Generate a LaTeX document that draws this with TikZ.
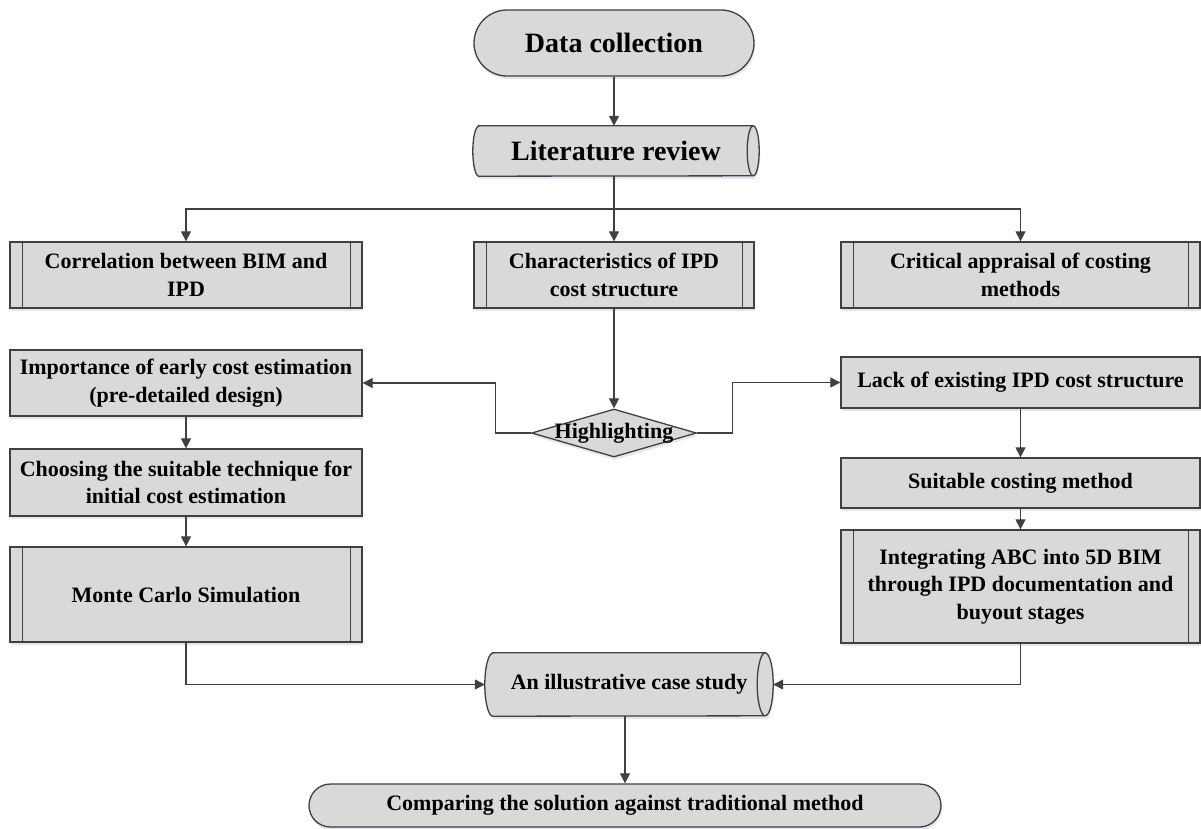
\documentclass[tikz,border=0pt]{standalone}
\usepackage{fontspec}
\setmainfont{Liberation Serif}
\usetikzlibrary{arrows.meta,calc,shapes.geometric,shadows,backgrounds}
\definecolor{gf}{HTML}{D9D9D9}
\definecolor{lc}{HTML}{404040}
\newcommand\myfs{\fontsize{22}{27.5}\selectfont\bfseries}
\newcommand\bigfs{\fontsize{28}{34}\selectfont\bfseries}
\newcommand\ppl[1]{\draw[lc,line width=1.3pt] ($(#1.north west)+(13pt,0)$) -- ($(#1.south west)+(13pt,0)$) ($(#1.north east)+(-12pt,0)$) -- ($(#1.south east)+(-12pt,0)$);}
\newcommand\cylshape[3]{%
  \begin{scope}[on background layer]
  \path[draw=lc,fill=gf,line width=1.3pt,shd] ($(#1.north west)+(#2pt,0)$) -- ($(#1.north east)+(-#2pt,0)$)
     arc[start angle=90,end angle=-90,x radius=#2pt,y radius=#3pt] -- ($(#1.south west)+(#2pt,0)$)
     arc[start angle=270,end angle=90,x radius=#2pt,y radius=#3pt] -- cycle;
  \draw[lc,line width=1.3pt] ($(#1.north east)+(-#2pt,0)$) arc[start angle=90,end angle=270,x radius=#2pt,y radius=#3pt];
  \end{scope}}
\begin{document}
\begin{tikzpicture}[x=1pt,y=-1pt,
  shd/.style={drop shadow={shadow xshift=1pt,shadow yshift=-3pt,fill=blue!30!gray,opacity=0.15}},
  proc/.style={draw=lc,fill=gf,line width=1.3pt,rectangle,inner sep=0pt,align=center,font=\myfs,text=black,shd},
  plain/.style={rectangle,inner sep=0pt,align=center,font=\myfs,text=black},
  arr/.style={draw=lc,line width=1.2pt,-{Triangle[length=10pt,width=10pt]}},
  ln/.style={draw=lc,line width=1.2pt}]
\useasboundingbox (0,0) rectangle (1201,828);

% top
\node[proc,rounded corners=33pt,minimum width=280pt,minimum height=66pt,font=\bigfs] (dc) at (614,43) {Data collection};
\node[plain,minimum width=286pt,minimum height=50pt,font=\bigfs] (lr) at (616,151) {Literature review};
\cylshape{lr}{6}{25}

% first row
\node[proc,minimum width=352pt,minimum height=66pt] (cor) at (186,275) {Correlation between BIM and\\IPD};
\ppl{cor}
\node[proc,minimum width=280pt,minimum height=66pt] (cha) at (614,275) {Characteristics of IPD\\cost structure};
\ppl{cha}
\node[proc,minimum width=359pt,minimum height=66pt] (cri) at (1020.5,275) {Critical appraisal of costing\\methods};
\ppl{cri}

% middle
\node[proc,minimum width=352pt,minimum height=66pt] (imp) at (186,383) {Importance of early cost estimation\\(pre-detailed design)};
\node[diamond,draw=lc,fill=gf,line width=1.3pt,inner sep=0pt,minimum width=165pt,minimum height=48pt,shd,
      label={[font=\myfs,text=black]center:Highlighting}] (hl) at (614,433) {};
\node[proc,minimum width=359pt,minimum height=51pt] (lack) at (1020.5,382.5) {Lack of existing IPD cost structure};

\node[proc,minimum width=352pt,minimum height=67pt] (cho) at (186,482.5) {Choosing the suitable technique for\\initial cost estimation};
\node[proc,minimum width=359pt,minimum height=50pt] (suit) at (1020.5,483) {Suitable costing method};

\node[proc,minimum width=352pt,minimum height=95pt] (mc) at (186,594.5) {Monte Carlo Simulation};
\ppl{mc}
\node[proc,minimum width=359pt,minimum height=113pt] (integ) at (1020.5,586.5) {Integrating ABC into 5D BIM\\through IPD documentation and\\buyout stages};
\ppl{integ}

% bottom
\node[plain,minimum width=288pt,minimum height=63pt] (cs) at (629,684.5) {An illustrative case study};
\cylshape{cs}{8}{31.5}
\node[proc,rounded corners=21.5pt,minimum width=632pt,minimum height=43pt] (cmp) at (625,805.5) {Comparing the solution against traditional method};

% connectors
\coordinate (br) at (614,209);
\draw[arr] (dc.south) -- (dc.south |- lr.north);
\draw[ln] (dc.south |- lr.south) -- (br);
\draw[arr] (br) -| (cor.north);
\draw[arr] (br) -| (cri.north);
\draw[arr] (br) -- (cha.north);
\draw[arr] (cha.south) -- (hl.north);
\draw[arr] (hl.west) -- ++(-35,0) |- (imp.east);
\draw[arr] (hl.east) -- ++(35,0) |- (lack.west);
\draw[arr] (imp.south) -- (cho.north);
\draw[arr] (cho.south) -- (mc.north);
\draw[arr] (lack.south) -- (suit.north);
\draw[arr] (suit.south) -- (integ.north);
\draw[arr] (mc.south) |- (cs.west);
\draw[arr] (integ.south) |- (cs.east);
\draw[arr] (cmp.north |- cs.south) -- (cmp.north);
\end{tikzpicture}
\end{document}
